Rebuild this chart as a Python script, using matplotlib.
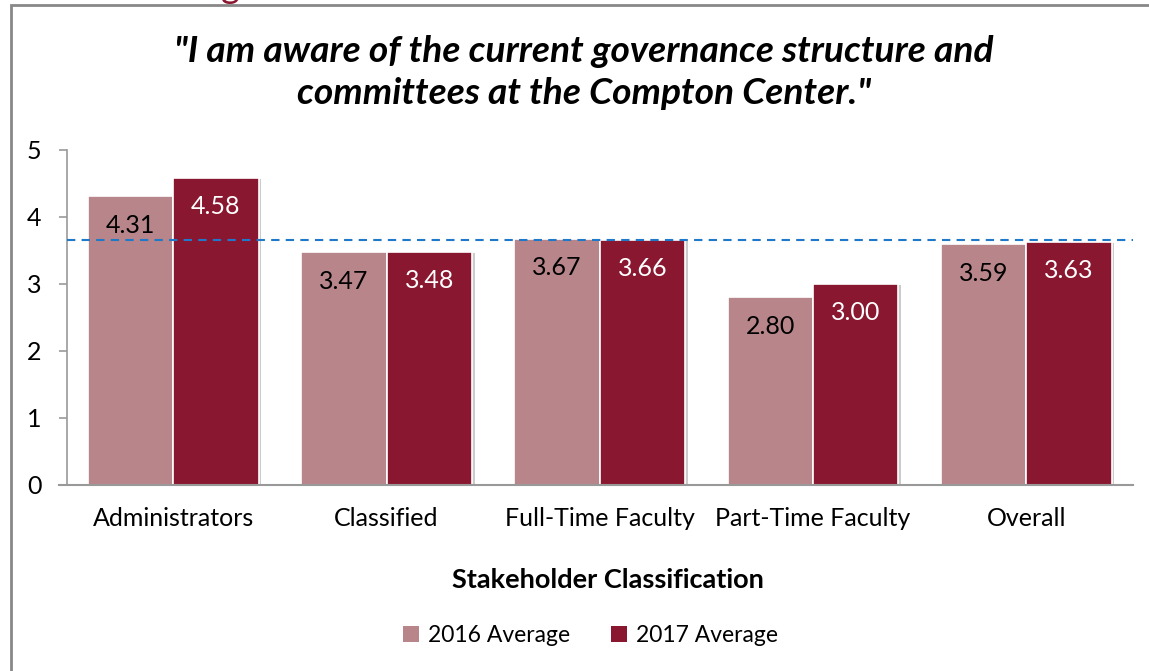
import matplotlib
matplotlib.use("Agg")
import matplotlib.pyplot as plt
import matplotlib.patheffects as pe
from matplotlib.patches import Rectangle, Patch
import numpy as np

categories = ["Administrators", "Classified", "Full-Time Faculty", "Part-Time Faculty", "Overall"]
avg_2016 = [4.31, 3.47, 3.67, 2.80, 3.59]
avg_2017 = [4.58, 3.48, 3.66, 3.00, 3.63]
series_names = ["2016 Average", "2017 Average"]
reference_line = 3.65
yticks = [0, 1, 2, 3, 4, 5]
title = '"I am aware of the current governance structure and\ncommittees at the Compton Center."'
xlabel = "Stakeholder Classification"

c16 = "#B8868A"
c17 = "#8A1730"
font = "Lato"
plt.rcParams["font.family"] = [font, "DejaVu Sans"]

fig = plt.figure(figsize=(11.49, 6.71), dpi=100)
ax = fig.add_axes([0.058, 0.2772, 0.928, 0.4993])

x = np.arange(len(categories))
w = 0.4
shadow = [pe.SimplePatchShadow(offset=(2, -1), shadow_rgbFace="#999999", alpha=0.5), pe.Normal()]
b1 = ax.bar(x - w / 2, avg_2016, w, color=c16, edgecolor="white", linewidth=1.2, zorder=3, path_effects=shadow)
b2 = ax.bar(x + w / 2, avg_2017, w, color=c17, edgecolor="white", linewidth=1.2, zorder=3, path_effects=shadow)

for rect, v in zip(b1, avg_2016):
    ax.text(rect.get_x() + rect.get_width() / 2, v - 0.43, f"{v:.2f}", ha="center", va="center",
            fontsize=18, color="black", zorder=5)
for rect, v in zip(b2, avg_2017):
    ax.text(rect.get_x() + rect.get_width() / 2, v - 0.43, f"{v:.2f}", ha="center", va="center",
            fontsize=18, color="white", zorder=5)

ax.plot([-0.5, 4.83], [reference_line, reference_line], linestyle=(0, (4, 3)), color="#1F78C8",
        linewidth=1.5, zorder=4)

ax.set_xlim(-0.5, len(categories) - 0.5)
ax.set_ylim(0, 5)
ax.set_yticks(yticks)
ax.set_yticklabels([str(t) for t in yticks], fontsize=18)
ax.set_xticks(x)
ax.set_xticklabels(categories, fontsize=18)
ax.tick_params(axis="x", length=0, pad=16)
ax.tick_params(axis="y", length=6, width=1.2, color="#999999", pad=12, direction="out")
for s in ["top", "right"]:
    ax.spines[s].set_visible(False)
ax.spines["left"].set_color("#999999")
ax.spines["left"].set_linewidth(1.2)
ax.spines["bottom"].set_color("#999999")
ax.spines["bottom"].set_linewidth(1.5)
ax.spines["bottom"].set_bounds(-0.538, len(categories) - 0.5)
ax.spines["bottom"].set_zorder(6)

fig.text(0.508, 0.892, title, ha="center", va="center", fontsize=26.7, fontweight="bold",
         fontstyle="italic", linespacing=1.3)
fig.text(0.529, 0.135, xlabel, ha="center", va="center", fontsize=19.5, fontweight="bold")

handles = [Patch(facecolor=c16, edgecolor="none"), Patch(facecolor=c17, edgecolor="none")]
fig.legend(handles, series_names, loc="center", bbox_to_anchor=(0.514, 0.053), ncol=2, frameon=False,
           fontsize=16.5, handlelength=0.7, handleheight=0.7, handletextpad=0.4, columnspacing=1.8)

# outer frame
fig.patches.append(Rectangle((11 / 1149, -0.1), 1.2, 1 - 5 / 671 + 0.1, transform=fig.transFigure,
                             fill=False, edgecolor="#888888", linewidth=2))
# cut-off heading fragment at top
fig.text(0.192, 1.003, "g", ha="left", va="baseline", fontsize=26, color=c17)

fig.savefig("out.png", dpi=100)
